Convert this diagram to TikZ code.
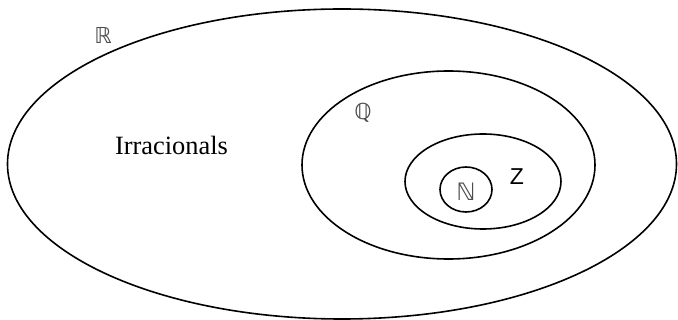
\documentclass[tikz,border=0pt]{standalone}
\usepackage{fontspec}
\setmainfont{Liberation Serif}
\newfontfamily\dvfont{DejaVu Sans}
\newfontfamily\lsfont{Liberation Sans}
\tikzset{
  setline/.style={line width=1.6pt, black},
  setlabel/.style={inner sep=0pt, text=black!70, font=\dvfont\fontsize{22}{22}\selectfont},
}
\begin{document}
\begin{tikzpicture}[x=1pt, y=-1pt]
\useasboundingbox (0,0) rectangle (678,320);
\coordinate (cR) at (342,164);
\coordinate (cQ) at (448.5,165);
\coordinate (cZ) at (483,181.5);
\coordinate (cN) at (466,189.5);
\draw[setline] (cR) ellipse [x radius=334.5, y radius=155];
\draw[setline] (cQ) ellipse [x radius=146.5, y radius=94];
\draw[setline] (cZ) ellipse [x radius=78, y radius=47.5];
\draw[setline] (cN) ellipse [x radius=26, y radius=22.5];
\node[setlabel] (lR) at (103,35) {ℝ};
\node[setlabel] (lQ) at (363,113) {ℚ};
\node[setlabel, font=\dvfont\fontsize{24}{24}\selectfont] (lN) at (466,192) {ℕ};
\node[inner sep=0pt, font=\lsfont\fontsize{23}{23}\selectfont] (lZ) at (517,177) {Z};
\node[inner sep=0pt, font=\fontsize{26.4}{26.4}\selectfont] (irr) at (171.5,145) {Irracionals};
\end{tikzpicture}
\end{document}
